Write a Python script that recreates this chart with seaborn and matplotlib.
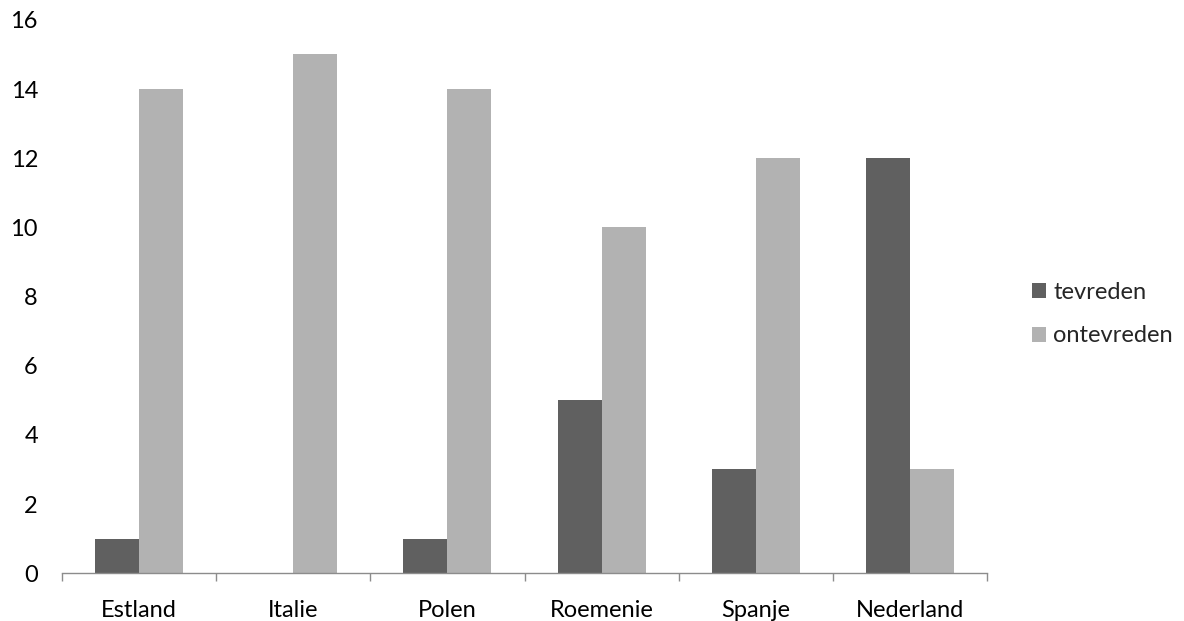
import pandas as pd
import matplotlib.pyplot as plt
import seaborn as sns

# ============================================================
# DATA
# ============================================================

COUNTRIES  = ["Estland", "Italie", "Polen", "Roemenie", "Spanje", "Nederland"]
TEVREDEN   = [1, 0, 1, 5, 3, 12]
ONTEVREDEN = [14, 15, 14, 10, 12, 3]
SERIES     = ["tevreden", "ontevreden"]
COLORS     = ["#606060", "#b2b2b2"]

df = pd.DataFrame({
    "land": COUNTRIES * 2,
    "serie": [SERIES[0]] * len(COUNTRIES) + [SERIES[1]] * len(COUNTRIES),
    "aantal": TEVREDEN + ONTEVREDEN,
})

# ============================================================
# CHART
# ============================================================

sns.set_theme(style="white")
plt.rcParams["font.family"] = ["Lato", "DejaVu Sans"]

FONT_SIZE = 17

fig = plt.figure(figsize=(11.84, 6.21), dpi=100)
ax = fig.add_axes([0.052, 0.077, 0.782, 0.891])

sns.barplot(data=df, x="land", y="aantal", hue="serie", order=COUNTRIES,
            hue_order=SERIES, palette=COLORS, width=0.57, gap=0,
            saturation=1, linewidth=0, ax=ax)

ax.set_ylim(0, 16)
ax.set_yticks(range(0, 17, 2))
ax.set_xlim(-0.5, len(COUNTRIES) - 0.5)
ax.set_xlabel("")
ax.set_ylabel("")

for side in ["top", "right", "left"]:
    ax.spines[side].set_visible(False)
ax.spines["bottom"].set_color("#8c8c8c")
ax.spines["bottom"].set_linewidth(1)

ax.set_xticks([i - 0.5 for i in range(len(COUNTRIES) + 1)], minor=True)
ax.tick_params(axis="x", which="minor", bottom=True, length=6, color="#8c8c8c",
               width=1, direction="out")
ax.tick_params(axis="x", which="major", length=0, labelsize=FONT_SIZE, pad=19, colors="black")
ax.tick_params(axis="y", length=0, labelsize=FONT_SIZE, pad=17, colors="black")

leg = ax.legend(loc="center left", bbox_to_anchor=(1.025, 0.468), frameon=False,
                fontsize=FONT_SIZE, handlelength=0.6, handleheight=0.6,
                handletextpad=0.3, labelspacing=0.95)

fig.savefig("out.png", dpi=100)
